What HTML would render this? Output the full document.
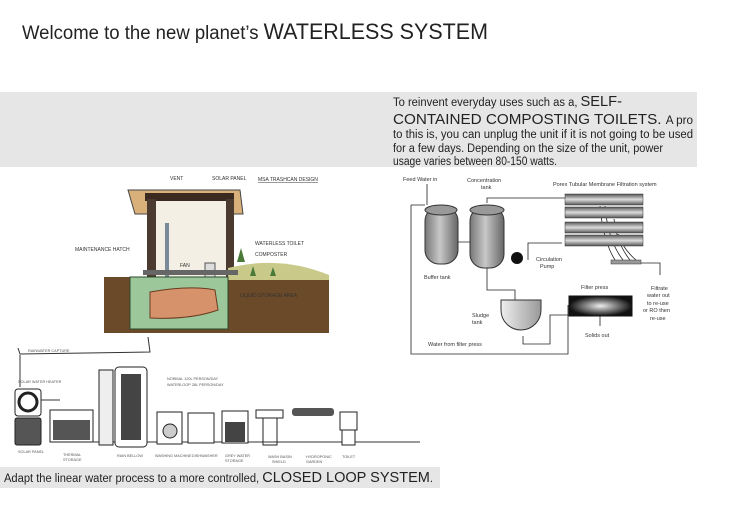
<!DOCTYPE html>
<html><head><meta charset="utf-8"><style>
body{margin:0;background:#fff;}
.w{position:relative;width:730px;height:516px;overflow:hidden;font-family:"Liberation Sans",sans-serif;}
</style></head><body><div class="w">
<svg width="730" height="516" xmlns="http://www.w3.org/2000/svg" font-family="Liberation Sans, sans-serif">
<defs>
<linearGradient id="cyl" x1="0" x2="1"><stop offset="0" stop-color="#777"/><stop offset=".45" stop-color="#c8c8c8"/><stop offset="1" stop-color="#666"/></linearGradient>
<linearGradient id="tube" x1="0" x2="0" y1="0" y2="1"><stop offset="0" stop-color="#555"/><stop offset=".5" stop-color="#ddd"/><stop offset="1" stop-color="#555"/></linearGradient>
<radialGradient id="fp"><stop offset="0" stop-color="#eee"/><stop offset="1" stop-color="#111"/></radialGradient>
<linearGradient id="sl" x1="0" x2="1"><stop offset="0" stop-color="#eee"/><stop offset="1" stop-color="#999"/></linearGradient>
</defs>
<text x="22" y="39" font-size="19" fill="#222" textLength="466" lengthAdjust="spacingAndGlyphs">Welcome to the new planet’s <tspan font-size="22">WATERLESS SYSTEM</tspan></text>
<rect x="0" y="92" width="697" height="75" fill="#e6e6e6"/>
<g font-size="11.5" fill="#222">
<text x="393" y="106" textLength="229" lengthAdjust="spacingAndGlyphs">To reinvent everyday uses such as a, <tspan font-size="15">SELF-</tspan></text>
<text x="393" y="124" font-size="15" textLength="300" lengthAdjust="spacingAndGlyphs">CONTAINED COMPOSTING TOILETS. <tspan font-size="11.5">A pro</tspan></text>
<text x="393" y="138" textLength="300" lengthAdjust="spacingAndGlyphs">to this is, you can unplug the unit if it is not going to be used</text>
<text x="393" y="152" textLength="270" lengthAdjust="spacingAndGlyphs">for a few days. Depending on the size of the unit, power</text>
<text x="393" y="165" textLength="164" lengthAdjust="spacingAndGlyphs">usage varies between 80-150 watts.</text>
</g>
<!-- toilet drawing -->
<g>
<polygon points="128,190 240,190 243,214 135,214" fill="#d9b07a" stroke="#444"/>
<rect x="145" y="193" width="89" height="8" fill="#3a2a20"/>
<rect x="147" y="199" width="9" height="105" fill="#4a3a30"/>
<rect x="226" y="199" width="8" height="105" fill="#4a3a30"/>
<rect x="156" y="201" width="70" height="98" fill="#f3efe4"/>
<rect x="165" y="223" width="4" height="76" fill="#7a8a9a"/>
<rect x="205" y="263" width="10" height="20" fill="#ddd" stroke="#555"/>
<rect x="104" y="277" width="225" height="56" fill="#6b4a2a"/>
<path d="M228,268 Q280,255 329,275 L329,280 L228,280Z" fill="#c9c98a"/>
<path d="M237,262 l4,-14 l4,14z M250,276 l3,-10 l3,10z M270,276 l3,-9 l3,9z" fill="#4a7a3a"/>
<rect x="130" y="277" width="98" height="52" fill="#9cc79a" stroke="#2a4a2a"/>
<path d="M150,292 Q190,285 215,290 L218,310 Q190,320 150,318Z" fill="#d6926a" stroke="#6a3a20"/>
<rect x="143" y="270" width="95" height="5" fill="#666"/>
<text font-size="5" fill="#333"><tspan x="170" y="180">VENT</tspan><tspan x="212" y="180">SOLAR PANEL</tspan><tspan x="258" y="181" text-decoration="underline">MSA TRASHCAN DESIGN</tspan><tspan x="75" y="251">MAINTENANCE HATCH</tspan><tspan x="180" y="267">FAN</tspan><tspan x="255" y="245">WATERLESS TOILET</tspan><tspan x="255" y="256">COMPOSTER</tspan><tspan x="240" y="297">LIQUID STORAGE AREA</tspan></text>
</g>
<!-- filtration diagram -->
<g stroke="#222" fill="none" stroke-width=".8">
<path d="M427,184 V205 M411,205 V354 H568 V305 M411,205 H425 M458,242 H470 M487,203 V198 H565 M487,268 V290 H515 V302 M523,336 V344 H550 V315 H568 M528,260 V243 H562 M641,263 H660 V275 M600,316 V326"/>
<path d="M600,206 q3,35 15,54 M605,206 q3,35 18,54 M614,219 q3,25 16,41 M618,234 q5,15 18,26"/>
</g>
<rect x="425" y="207" width="33" height="57" rx="14" fill="url(#cyl)" stroke="#333"/>
<ellipse cx="441" cy="210" rx="16" ry="5" fill="#999" stroke="#333"/>
<rect x="470" y="207" width="34" height="61" rx="14" fill="url(#cyl)" stroke="#333"/>
<ellipse cx="487" cy="210" rx="17" ry="5" fill="#999" stroke="#333"/>
<circle cx="517" cy="258" r="6" fill="#111"/>
<rect x="565" y="194" width="78" height="11" fill="url(#tube)" stroke="#333" stroke-width=".5"/>
<rect x="565" y="207" width="78" height="11" fill="url(#tube)" stroke="#333" stroke-width=".5"/>
<rect x="565" y="222" width="78" height="11" fill="url(#tube)" stroke="#333" stroke-width=".5"/>
<rect x="565" y="235" width="78" height="11" fill="url(#tube)" stroke="#333" stroke-width=".5"/>
<rect x="611" y="260" width="30" height="4" fill="#999" stroke="#333" stroke-width=".5"/>
<path d="M501,300 h40 v10 a20,20 0 0 1 -40,0z" fill="url(#sl)" stroke="#333"/>
<rect x="569" y="296" width="63" height="20" fill="url(#fp)" stroke="#111"/>
<text font-size="5.5" fill="#333"><tspan x="403" y="181">Feed Water in</tspan><tspan x="467" y="182">Concentration</tspan><tspan x="481" y="189">tank</tspan><tspan x="553" y="186">Porex Tubular Membrane Filtration system</tspan><tspan x="424" y="279">Buffer tank</tspan><tspan x="536" y="261">Circulation</tspan><tspan x="540" y="268">Pump</tspan><tspan x="581" y="289">Filter press</tspan><tspan x="472" y="317">Sludge</tspan><tspan x="472" y="324">tank</tspan><tspan x="585" y="337">Solids out</tspan><tspan x="428" y="346">Water from filter press</tspan><tspan x="651" y="290">Filtrate</tspan><tspan x="647" y="297">water out</tspan><tspan x="647" y="305">to re-use</tspan><tspan x="643" y="312">or RO then</tspan><tspan x="650" y="320">re-use</tspan></text>
<!-- closed loop diagram -->
<g stroke="#333" fill="none" stroke-width="1">
<path d="M148,337 L150,352 L20,354 L18,348"/>
<path d="M20,355 V387 M40,400 H60 M90,442 H420"/>
</g>
<rect x="15" y="389" width="26" height="27" rx="3" fill="#fff" stroke="#222"/>
<circle cx="28" cy="402" r="9" fill="none" stroke="#222" stroke-width="3"/>
<rect x="15" y="418" width="26" height="27" rx="2" fill="#555" stroke="#222"/>
<rect x="50" y="410" width="43" height="32" fill="#fff" stroke="#222"/><rect x="53" y="420" width="37" height="20" fill="#555"/>
<rect x="99" y="370" width="14" height="75" fill="#eee" stroke="#222"/>
<rect x="115" y="367" width="32" height="80" rx="4" fill="#fff" stroke="#222"/><rect x="121" y="374" width="20" height="66" fill="#444"/>
<rect x="157" y="412" width="25" height="32" fill="#fff" stroke="#222"/><circle cx="170" cy="431" r="7" fill="#ccc" stroke="#222"/>
<rect x="188" y="413" width="26" height="30" fill="#fff" stroke="#222"/>
<rect x="222" y="411" width="26" height="32" fill="#fff" stroke="#222"/><rect x="225" y="422" width="20" height="20" fill="#444"/>
<rect x="256" y="410" width="27" height="8" fill="#fff" stroke="#222"/><rect x="263" y="418" width="14" height="27" fill="none" stroke="#222"/>
<rect x="292" y="408" width="42" height="8" rx="3" fill="#555"/>
<path d="M340,412 h17 v18 h-17z M342,430 h13 v15 h-13z" fill="#fff" stroke="#222"/>
<text font-size="3.8" fill="#555"><tspan x="28" y="352">RAINWATER CAPTURE</tspan><tspan x="18" y="383">SOLAR WATER HEATER</tspan><tspan x="167" y="380">NORMAL 120L PERSON/DAY</tspan><tspan x="167" y="386">WATERLOOP 28L PERSON/DAY</tspan><tspan x="18" y="453">SOLAR PANEL</tspan><tspan x="63" y="456">THERMAL</tspan><tspan x="63" y="461">STORAGE</tspan><tspan x="117" y="457">RAIN BELLOW</tspan><tspan x="155" y="457">WASHING MACHINE</tspan><tspan x="192" y="457">DISHWASHER</tspan><tspan x="225" y="457">GREY WATER</tspan><tspan x="225" y="462">STORAGE</tspan><tspan x="268" y="458">WASH BASIN</tspan><tspan x="272" y="463">SHIELD</tspan><tspan x="306" y="458">HYDROPONIC</tspan><tspan x="306" y="463">GARDEN</tspan><tspan x="342" y="458">TOILET</tspan></text>
<rect x="0" y="467" width="440" height="21" fill="#e6e6e6"/>
<text x="4" y="482" font-size="11.5" fill="#222" textLength="429" lengthAdjust="spacingAndGlyphs">Adapt the linear water process to a more controlled, <tspan font-size="15">CLOSED LOOP SYSTEM</tspan>.</text>
</svg>
</div></body></html>
